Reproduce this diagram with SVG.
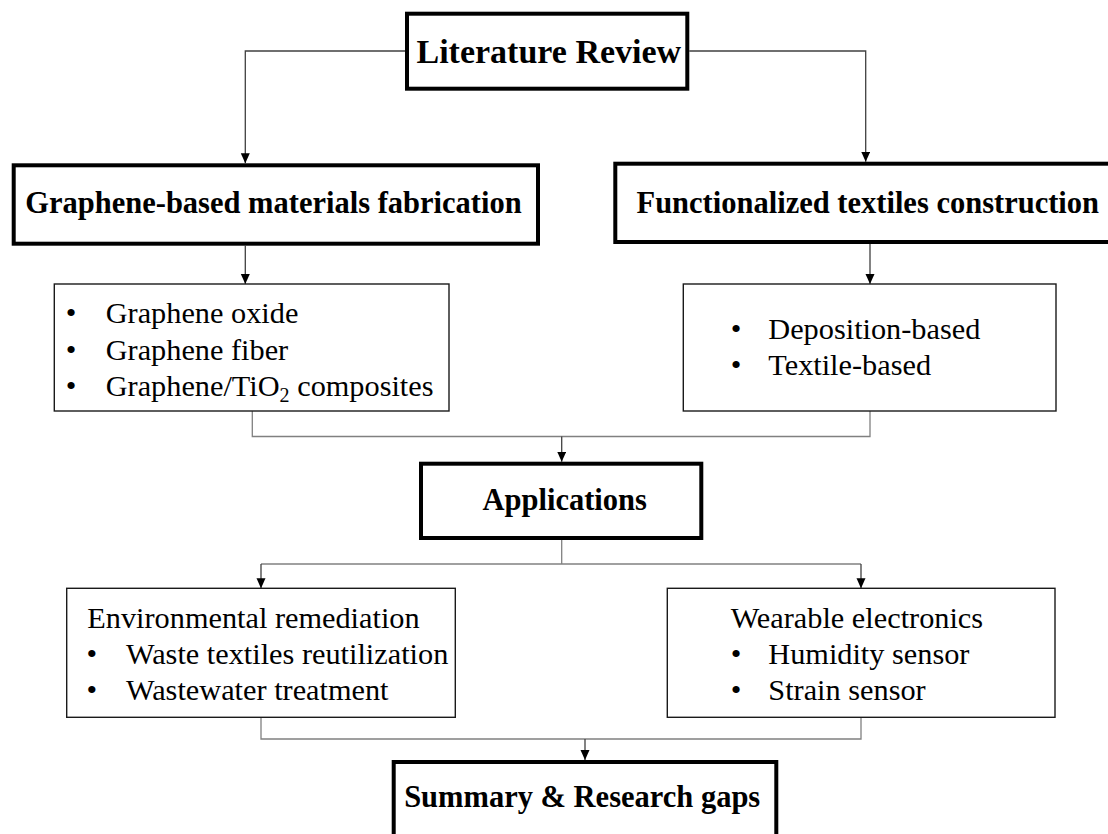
<svg xmlns="http://www.w3.org/2000/svg" width="1108" height="834" viewBox="0 0 1108 834">
<style>
.thick{fill:#fff;stroke:#000;stroke-width:4}
.thin{fill:#fff;stroke:#1a1a1a;stroke-width:1.4}
.title{font-family:"Liberation Serif","Times New Roman",serif;font-weight:bold;font-size:30.5px;fill:#000;text-anchor:middle}
.item{font-family:"Liberation Serif","Times New Roman",serif;font-size:30.3px;fill:#000}
.arr{fill:none;stroke:#404040;stroke-width:1.3;marker-end:url(#ah)}
.ln{fill:none;stroke:#808080;stroke-width:1.3}
</style>
<defs>
<marker id="ah" markerUnits="userSpaceOnUse" markerWidth="10" markerHeight="10" refX="10" refY="4.5" orient="auto">
<path d="M0,0 L10,4.5 L0,9 z" fill="#000"/>
</marker>
</defs>
<rect width="1108" height="834" fill="#fff"/>
<g id="connectors">
<path class="arr" d="M405,51 H245.3 V163.3"/>
<path class="arr" d="M689.3,51 H865.7 V161.7"/>
<path class="arr" d="M245.3,245.7 V284"/>
<path class="arr" d="M870,244 V284"/>
<path class="ln" d="M252.3,411 V436.5 H870 V411"/>
<path class="arr" d="M561.7,436.5 V461.7"/>
<path class="ln" d="M561.7,540 V564"/>
<path class="ln" d="M261,564 H861"/>
<path class="arr" d="M261,564 V588.3"/>
<path class="arr" d="M861,564 V588.3"/>
<path class="ln" d="M261,717.3 V739 H861 V717.3"/>
<path class="arr" d="M585,739 V760"/>
</g>
<g id="literature-review">
<rect class="thick" x="407" y="13.7" width="280.3" height="75"/>
<text class="title" x="548.8" y="62.7" style="font-size:34px">Literature Review</text>
</g>
<g id="graphene-fabrication">
<rect class="thick" x="13.7" y="165.3" width="524.3" height="78.4"/>
<text class="title" x="273.5" y="213.3">Graphene-based materials fabrication</text>
</g>
<g id="textiles-construction">
<rect class="thick" x="615.3" y="163.7" width="505" height="78.3"/>
<text class="title" x="867.8" y="213">Functionalized textiles construction</text>
</g>
<g id="graphene-items">
<rect class="thin" x="54.3" y="284" width="394.7" height="127"/>
<text class="item" x="65.7" y="323.3">•</text>
<text class="item" x="105.7" y="323.3">Graphene oxide</text>
<text class="item" x="65.7" y="359.8">•</text>
<text class="item" x="105.7" y="359.8">Graphene fiber</text>
<text class="item" x="65.7" y="396.3">•</text>
<text class="item" x="105.7" y="396.3">Graphene/TiO<tspan font-size="20" dy="6">2</tspan><tspan dy="-6"> composites</tspan></text>
</g>
<g id="textiles-items">
<rect class="thin" x="683.3" y="284" width="372.7" height="127"/>
<text class="item" x="730.7" y="339.3">•</text>
<text class="item" x="768.3" y="339.3">Deposition-based</text>
<text class="item" x="730.7" y="375.3">•</text>
<text class="item" x="768.3" y="375.3">Textile-based</text>
</g>
<g id="applications">
<rect class="thick" x="421" y="463.7" width="280.3" height="74.3"/>
<text class="title" x="564.7" y="510">Applications</text>
</g>
<g id="environmental">
<rect class="thin" x="66.7" y="588.3" width="388.6" height="129"/>
<text class="item" x="87.3" y="628">Environmental remediation</text>
<text class="item" x="86.4" y="664">•</text>
<text class="item" x="126" y="664">Waste textiles reutilization</text>
<text class="item" x="86.4" y="700">•</text>
<text class="item" x="126" y="700">Wastewater treatment</text>
</g>
<g id="wearable">
<rect class="thin" x="667.3" y="588.3" width="387.7" height="129"/>
<text class="item" x="730.7" y="628">Wearable electronics</text>
<text class="item" x="730.7" y="664">•</text>
<text class="item" x="768.3" y="664">Humidity sensor</text>
<text class="item" x="730.7" y="700">•</text>
<text class="item" x="768.3" y="700">Strain sensor</text>
</g>
<g id="summary">
<rect class="thick" x="393.7" y="762" width="382.6" height="100"/>
<text class="title" x="582.2" y="807.3">Summary &amp; Research gaps</text>
</g>
</svg>
